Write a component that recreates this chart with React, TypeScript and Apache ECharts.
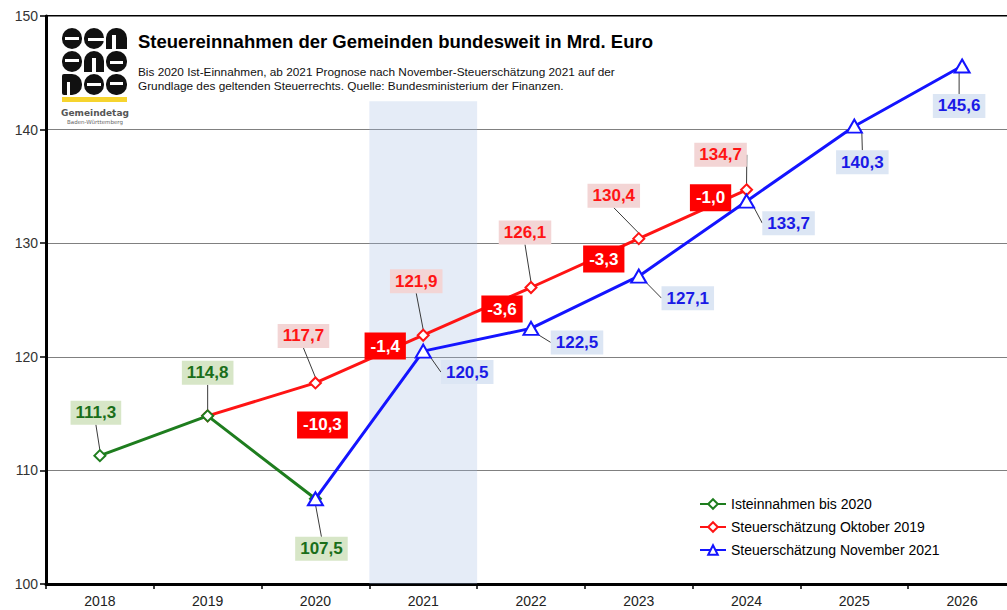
import React, { useEffect, useRef } from 'react';
import * as echarts from 'echarts';

// ---- data ----
const years = ['2018', '2019', '2020', '2021', '2022', '2023', '2024', '2025', '2026'];
const istValues = [111.3, 114.8, 107.5, null, null, null, null, null, null];
const oktValues = [null, 114.8, 117.7, 121.9, 126.1, 130.4, 134.7, null, null];
const novValues = [null, null, 107.5, 120.5, 122.5, 127.1, 133.7, 140.3, 145.6];
const yMin = 100;
const yMax = 150;
const yStep = 10;
const diffTexts = ['-10,3', '-1,4', '-3,6', '-3,3', '-1,0'];
const diffYears = ['2020', '2021', '2022', '2023', '2024'];
const diffLevels = [114.0, 120.95, 124.2, 128.6, 134.0];
const bandYear = '2021';
const bandTop = 142.5;
const seriesNames = ['Isteinnahmen bis 2020', 'Steuerschätzung Oktober 2019', 'Steuerschätzung November 2021'];

// ---- layout (label shifts in px) ----
const istLabelShift: (number[] | null)[] = [[-4, -43], [0, -43], [6, 50]];
const oktLabelShift: (number[] | null)[] = [null, null, [-12, -47], [-7, -54], [-6, -55], [-25, -43], [-26, -35], null, null];
const novLabelShift: (number[] | null)[] = [null, null, null, [44, 21], [46, 14], [49, 22], [42, 22], [8, 36], [-3, 40]];
const diffShiftX = [7, -38, -29, -35, -36];

const FONT = '"Liberation Sans", Arial, sans-serif';
const GREEN = '#1e7d1e';
const RED = '#ff1414';
const BLUE = '#1414ff';

const fmt = (v: number) => v.toFixed(1).replace('.', ',');

function buildData(values: (number | null)[], shift: (number[] | null)[]) {
  return values.map((v, i) =>
    v == null ? '-' : { value: v, label: { show: !!shift[i] } }
  );
}

function valueLabel(color: string, bg: string) {
  return {
    show: true,
    position: 'inside',
    formatter: (p: any) => fmt(Number(p.value)),
    color,
    backgroundColor: bg,
    fontWeight: 'bold',
    fontSize: 17,
    fontFamily: FONT,
    lineHeight: 18,
    padding: [4, 5, 2, 5],
  };
}

function layoutFrom(shift: (number[] | null)[]) {
  return (params: any) => {
    const s = shift[params.dataIndex];
    return s ? { dx: s[0], dy: s[1] } : {};
  };
}

const leader = { show: true, lineStyle: { color: '#3a3a3a', width: 1 } };

function logoShapes() {
  const els: any[] = [];
  const ox = 62, oy = 28;
  const cells = [
    // row 1
    { x: 0, y: 0, w: 20, h: 21, r: [10, 10, 10, 10], hole: [3, 9, 14, 3] },
    { x: 22, y: 0, w: 20, h: 21, r: [10, 10, 10, 10], hole: [26, 10, 16, 3] },
    { x: 44, y: 0, w: 21, h: 21, r: [10, 10, 0, 0], hole: [50, 7, 4, 14] },
    // row 2
    { x: 0, y: 23, w: 20, h: 21, r: [10, 10, 10, 10], hole: [3, 31, 14, 3] },
    { x: 22, y: 23, w: 20, h: 21, r: [10, 10, 0, 0], hole: [30, 30, 4, 14] },
    { x: 44, y: 23, w: 21, h: 21, r: [10, 10, 10, 10], hole: [48, 33, 13, 3] },
    // row 3
    { x: 0, y: 46, w: 20, h: 21, r: [2, 10, 10, 2], hole: [5, 54, 3, 13] },
    { x: 22, y: 46, w: 20, h: 21, r: [10, 10, 10, 10], hole: [25, 55, 14, 3] },
    { x: 44, y: 46, w: 21, h: 21, r: [10, 10, 10, 10], hole: [48, 54, 13, 3] },
  ];
  cells.forEach((c) => {
    els.push({
      type: 'rect', silent: true,
      shape: { x: ox + c.x, y: oy + c.y, width: c.w, height: c.h, r: c.r },
      style: { fill: '#111' },
    });
    els.push({
      type: 'rect', silent: true,
      shape: { x: ox + c.hole[0], y: oy + c.hole[1], width: c.hole[2], height: c.hole[3] },
      style: { fill: '#fff' },
    });
  });
  els.push({ type: 'rect', silent: true, shape: { x: 62, y: 97, width: 65, height: 5 }, style: { fill: '#f6d42e' } });
  els.push({
    type: 'text', silent: true, x: 95, y: 108,
    style: { text: 'Gemeindetag', font: 'bold 9px "DejaVu Sans", sans-serif', fill: '#555', textAlign: 'center' },
  });
  els.push({
    type: 'text', silent: true, x: 95, y: 119,
    style: { text: 'Baden-Württemberg', font: '5.5px "DejaVu Sans", sans-serif', fill: '#666', textAlign: 'center' },
  });
  return els;
}

export default function App() {
  const ref = useRef<HTMLDivElement>(null);

  useEffect(() => {
    if (!ref.current) return;
    const chart = echarts.init(ref.current, null as any, { renderer: 'svg' });

    const option: any = {
      animation: false,
      backgroundColor: '#fff',
      grid: {
        left: 46, top: 16, width: 970, height: 568,
        show: true, borderColor: '#000', borderWidth: 2, backgroundColor: 'transparent',
      },
      legend: {
        data: seriesNames,
        orient: 'vertical',
        left: 694,
        top: 492,
        itemWidth: 26,
        itemHeight: 12,
        itemGap: 9,
        textStyle: { fontSize: 14, color: '#000', fontFamily: FONT },
      },
      xAxis: {
        type: 'category',
        data: years,
        boundaryGap: true,
        axisLine: { lineStyle: { color: '#000', width: 3 } },
        axisTick: { show: true, length: 5, lineStyle: { color: '#000', width: 1.5 } },
        axisLabel: { fontSize: 14, color: '#222', fontFamily: FONT, margin: 10 },
        splitLine: { show: false },
      },
      yAxis: {
        type: 'value',
        min: yMin,
        max: yMax,
        interval: yStep,
        axisLine: { show: true, lineStyle: { color: '#000', width: 3 } },
        axisTick: { show: true, length: 6, lineStyle: { color: '#000', width: 1.5 } },
        axisLabel: { fontSize: 14, color: '#333', fontFamily: FONT, margin: 8 },
        splitLine: { show: true, lineStyle: { color: '#808080', width: 1 } },
      },
      graphic: [
        ...logoShapes(),
        {
          type: 'text', silent: true, x: 138, y: 32,
          style: {
            text: 'Steuereinnahmen der Gemeinden bundesweit in Mrd. Euro',
            font: `bold 18.5px ${FONT}`, fill: '#000',
          },
        },
        {
          type: 'text', silent: true, x: 138, y: 66,
          style: {
            text: 'Bis 2020 Ist-Einnahmen, ab 2021 Prognose nach November-Steuerschätzung 2021 auf der',
            font: `11.8px ${FONT}`, fill: '#111',
          },
        },
        {
          type: 'text', silent: true, x: 138, y: 80,
          style: {
            text: 'Grundlage des geltenden Steuerrechts. Quelle: Bundesministerium der Finanzen.',
            font: `11.8px ${FONT}`, fill: '#111',
          },
        },
      ],
      series: [
        {
          name: 'band',
          type: 'bar',
          data: years.map((y) => (y === bandYear ? bandTop : '-')),
          barWidth: '100%',
          itemStyle: { color: 'rgba(160,188,228,0.28)' },
          silent: true,
          z: 1,
          tooltip: { show: false },
        },
        {
          name: seriesNames[1],
          type: 'line',
          data: buildData(oktValues, oktLabelShift),
          symbol: 'emptyDiamond',
          symbolSize: 11,
          lineStyle: { color: RED, width: 3 },
          itemStyle: { color: RED, borderWidth: 2 },
          label: valueLabel(RED, '#f3d5d5'),
          labelLayout: layoutFrom(oktLabelShift),
          labelLine: leader,
          z: 3,
          markPoint: {
            symbol: 'rect',
            symbolSize: 1,
            itemStyle: { color: 'rgba(0,0,0,0)' },
            silent: true,
            label: {
              show: true,
              position: 'inside',
              formatter: '{b}',
              color: '#fff',
              backgroundColor: '#ff0000',
              fontWeight: 'bold',
              fontSize: 17,
              fontFamily: FONT,
              lineHeight: 18,
              padding: [5, 6, 4, 6],
            },
            data: diffTexts.map((t, i) => ({
              name: t,
              coord: [diffYears[i], diffLevels[i]],
              label: { offset: [diffShiftX[i], 0] },
            })),
          },
        },
        {
          name: seriesNames[0],
          type: 'line',
          data: buildData(istValues, istLabelShift),
          symbol: 'emptyDiamond',
          symbolSize: 11,
          lineStyle: { color: GREEN, width: 3 },
          itemStyle: { color: GREEN, borderWidth: 2 },
          label: valueLabel('#1a6e1a', '#d7e6c7'),
          labelLayout: layoutFrom(istLabelShift),
          labelLine: leader,
          z: 4,
        },
        {
          name: seriesNames[2],
          type: 'line',
          data: buildData(novValues, novLabelShift),
          symbol: 'emptyTriangle',
          symbolSize: [15, 13],
          lineStyle: { color: BLUE, width: 3 },
          itemStyle: { color: BLUE, borderWidth: 2 },
          label: valueLabel('#1a1ae6', '#dce6f4'),
          labelLayout: layoutFrom(novLabelShift),
          labelLine: leader,
          z: 5,
        },
      ],
    };

    chart.setOption(option);
    return () => chart.dispose();
  }, []);

  return (
    <div style={{ position: 'fixed', left: 0, top: 0, width: 1007, height: 610, overflow: 'hidden', background: '#fff' }}>
      <div ref={ref} style={{ width: 1030, height: 610 }} />
    </div>
  );
}
